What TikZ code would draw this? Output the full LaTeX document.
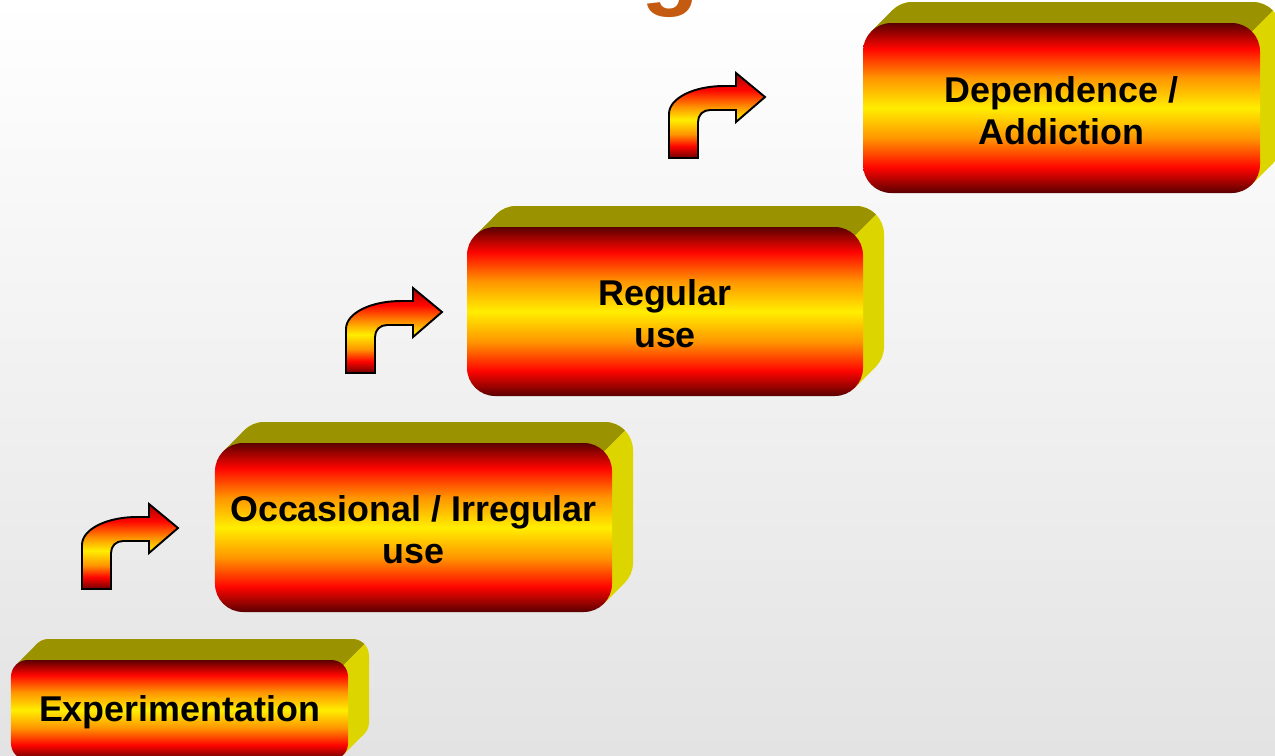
\documentclass[tikz,border=0pt]{standalone}
\usepackage{fontspec}
\setmainfont{Liberation Sans}
\definecolor{dred}{HTML}{5A0000}
\definecolor{gred}{HTML}{FF0500}
\definecolor{gorange}{HTML}{FF9400}
\definecolor{gyellow}{HTML}{FFEE00}
\definecolor{adred}{HTML}{A80000}
\definecolor{adred2}{HTML}{6E0000}
\definecolor{olivetop}{HTML}{9B9200}
\definecolor{yellowside}{HTML}{DDD500}
\definecolor{titleorange}{HTML}{C55A11}
\definecolor{bgbottom}{HTML}{E3E3E3}
\pgfdeclareverticalshading{boxgrad}{100bp}{color(0bp)=(dred); color(25bp)=(dred); color(32.5bp)=(gred); color(41bp)=(gorange); color(50bp)=(gyellow); color(59bp)=(gorange); color(67.5bp)=(gred); color(75bp)=(dred); color(100bp)=(dred)}
\pgfdeclareverticalshading{arrowgrad}{100bp}{color(0bp)=(adred2); color(25bp)=(adred2); color(32bp)=(gred); color(39bp)=(gorange); color(47.5bp)=(gyellow); color(55bp)=(gorange); color(65bp)=(gred); color(75bp)=(adred); color(100bp)=(adred)}
\tikzset{
  x=0.02cm, y=-0.02cm,
  stageface/.style={shading=boxgrad, inner sep=0pt},
  stagetext/.style={inner sep=0pt, align=center, text=black,
    font=\bfseries\fontsize{20.4}{24}\selectfont},
  bentarrowstyle/.style={shading=arrowgrad, draw=black, line width=1.1pt, line join=miter},
}
% #1 name, #2 x1, #3 y1, #4 x2, #5 y2 (px, y down), #6 text
\newcommand\stagebox[6]{%
  \pgfmathsetmacro\sbx{#2}\pgfmathsetmacro\sby{#3}%
  \pgfmathsetmacro\sbX{#4}\pgfmathsetmacro\sbY{#5}%
  \pgfmathsetmacro\sbr{0.1667*min(\sbX-\sbx,\sbY-\sby)}%
  \pgfmathsetmacro\sbk{0.293*\sbr}%
  \pgfmathsetmacro\sbrc{\sbr*0.02}%
  \pgfmathsetmacro\sbw{(\sbX-\sbx)*0.02}%
  \pgfmathsetmacro\sbh{(\sbY-\sby)*0.02}%
  \def\sbd{21}%
  % yellow side
  \fill[yellowside, rounded corners=\sbrc cm] (\sbx+\sbd,\sby-\sbd) rectangle (\sbX+\sbd,\sbY-\sbd);
  \fill[yellowside] (\sbX-\sbk,\sby+\sbk) -- ++(\sbd,-\sbd) -- (\sbX-\sbk+\sbd,\sbY-\sbk-\sbd) -- (\sbX-\sbk,\sbY-\sbk) -- cycle;
  % olive top
  \begin{scope}
    \clip (\sbX-\sbk+60,\sby+\sbk-60) -- (\sbX-\sbk-1500,\sby+\sbk-60) -- (\sbX-\sbk-1500,\sby+\sbk+1500) -- cycle;
    \fill[olivetop, rounded corners=\sbrc cm] (\sbx+\sbd,\sby-\sbd) rectangle (\sbX+\sbd,\sbY-\sbd);
  \end{scope}
  \fill[olivetop] (\sbx+\sbk,\sby+\sbk) -- ++(\sbd,-\sbd) -- (\sbX-\sbk+\sbd,\sby+\sbk-\sbd) -- (\sbX-\sbk,\sby+\sbk) -- cycle;
  % front face
  \node[stageface, minimum width=\sbw cm, minimum height=\sbh cm, rounded corners=\sbrc cm]
    (#1) at ({(\sbx+\sbX)/2},{(\sby+\sbY)/2}) {};
  \node[stagetext] (#1-text) at ([yshift=-0.05cm]#1.center) {#6};
}
% bent arrow, #1 = stem bottom-left (px)
\newcommand\bentarrow[1]{%
  \path[bentarrowstyle, shift={#1}]
    (0,0) -- (0,-44) .. controls (0,-60) and (25,-72) .. (55,-72) -- (67,-72) -- (67,-85)
    -- (96,-61) -- (67,-36) -- (67,-48) -- (41,-48)
    .. controls (34,-48) and (29,-43) .. (29,-36) -- (29,0) -- cycle;
}
\begin{document}
\begin{tikzpicture}
\useasboundingbox (0,0) rectangle (1275,755);
\fill[top color=white, bottom color=bgbottom] (0,0) rectangle (1275,755);
\node[text=titleorange, inner sep=0pt, anchor=base, font=\bfseries\fontsize{54}{54}\selectfont] (title) at (670,-3) {g};

\stagebox{exp}{11}{660}{348}{760}{Experimentation}
\stagebox{occ}{215}{443}{612}{612}{Occasional / Irregular\\use}
\stagebox{reg}{467}{227}{863}{396}{Regular\\use}
\stagebox{dep}{863}{23}{1260}{193}{Dependence /\\Addiction}

\bentarrow{(82,589)}
\bentarrow{(346,373)}
\bentarrow{(669,158)}
\end{tikzpicture}
\end{document}
